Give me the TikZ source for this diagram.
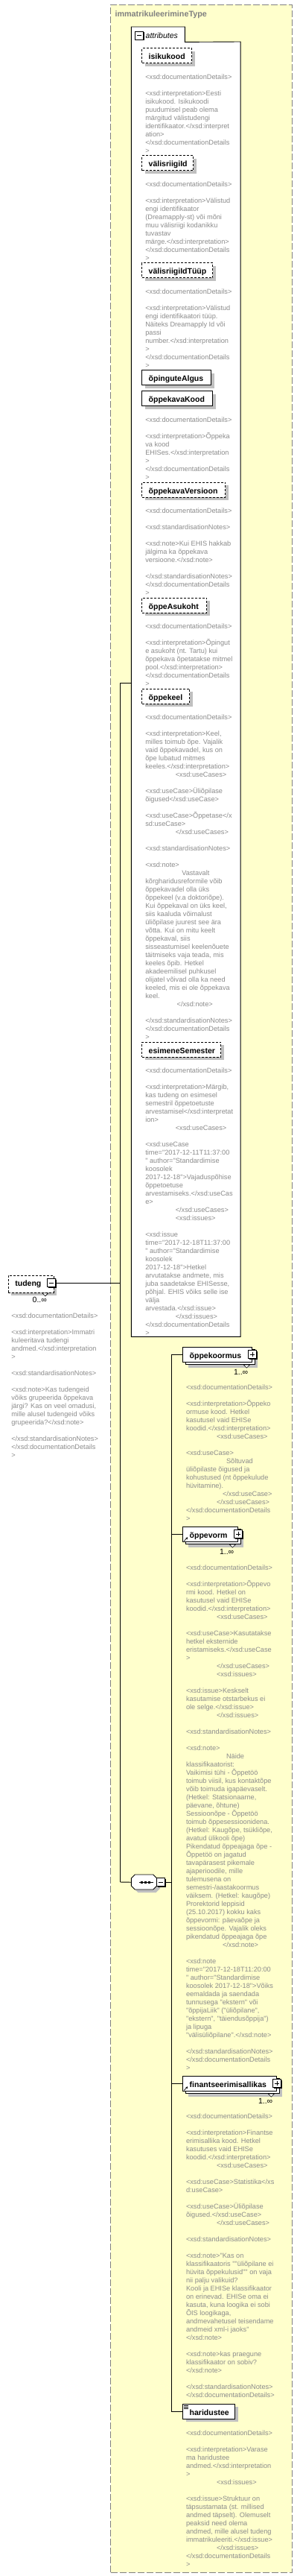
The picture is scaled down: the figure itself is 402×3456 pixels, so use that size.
\documentclass[tikz,border=0pt]{standalone}
\usepackage{fontspec}
\setmainfont{Liberation Sans}
\newfontfamily\docff{Liberation Sans}
\usetikzlibrary{shadows,arrows.meta}
\definecolor{yel}{RGB}{255,255,204}
\definecolor{docgray}{RGB}{140,140,140}
\definecolor{shad}{RGB}{192,192,192}
\definecolor{framegray}{RGB}{128,128,128}
\newcommand\docfont{\docff\fontsize{9.2}{11}\selectfont\color{docgray}}
\newcommand\BL{\mbox{}}
\newcommand\ind[1]{\hspace*{#1pt}}
\newcommand\docat[4]{\node[docnode] (#1) at (#2,#3) {\begin{minipage}[t]{200pt}\docfont #4\end{minipage}};}
\newcommand\minusmark[1]{\draw[line width=0.9pt] ([xshift=-3pt]#1.center) -- ([xshift=3pt]#1.center);}
\newcommand\plusmark[1]{\minusmark{#1}\draw[line width=0.9pt] ([yshift=-3pt]#1.center) -- ([yshift=3pt]#1.center);}
\tikzset{
  docnode/.style={anchor=base west, inner sep=0pt, outer sep=0pt},
  lblbox/.style={fill=white, draw=black, line width=0.8pt, inner xsep=9pt, inner ysep=0pt,
    text height=10pt, text depth=0pt, minimum height=20pt, anchor=north west, align=left,
    font=\fontsize{10.5}{12}\selectfont\bfseries},
  optbox/.style={lblbox, dash pattern=on 3pt off 2pt},
  shadowed/.style={drop shadow={shadow xshift=4pt, shadow yshift=-4pt, opacity=1, fill=shad}},
  backbox/.style={fill=white, draw=black, line width=0.8pt, inner sep=0pt, minimum height=20pt, anchor=north west, shadowed},
  smallbox/.style={draw=black, fill=white, line width=0.9pt, minimum size=11pt, inner sep=0pt,
    drop shadow={shadow xshift=1.2pt, shadow yshift=-1.2pt, opacity=1, fill=black}},
  conn/.style={draw=black, line width=0.9pt},
  mult/.style={inner sep=0pt, font=\fontsize{10.5}{12}\selectfont},
  notch/.style={draw=black, fill=white, line width=0.6pt},
}
\begin{document}
\begin{tikzpicture}[x=1pt,y=-1pt]
\useasboundingbox (0,0) rectangle (402,3456);
% outer complex type
\node[draw=framegray, fill=yel, line width=1pt, dash pattern=on 9pt off 3pt, inner sep=0pt,
  minimum width=243.4pt, minimum height=3445pt, anchor=north west] (outer) at (148.3,5.7) {};
\node[anchor=base west, inner sep=0pt, text=framegray, font=\fontsize{10.8}{12}\selectfont\bfseries] (title) at (154.3,22.3) {immatrikuleerimineType};
% attributes group
\node[fill=white, inner sep=0pt, minimum width=146.4pt, minimum height=1737pt, anchor=north west] (attrs) at (176.3,56) {};
\node[fill=white, inner sep=0pt, minimum width=71.7pt, minimum height=20pt, anchor=north west] (attrtab) at (176.3,36) {};
\draw[line width=0.9pt] (attrs.south west) -- (attrtab.north west) -- (attrtab.north east) -- (attrtab.south east) -- (attrs.north east) -- (attrs.south east) -- cycle;
\node[smallbox] (attrM) at (187,47.5) {}; \minusmark{attrM}
\node[anchor=base west, inner sep=0pt, font=\fontsize{10.5}{12}\selectfont\itshape] (attrLbl) at (195.5,51) {attributes};

% attribute boxes
\node[optbox, shadowed, text width=49pt] (aIsik) at (190.3,64.3) {\mbox{isikukood}};
\docat{dIsik}{195.3}{100.3}{<xsd:documentationDetails>\\
\BL\\
<xsd:interpretation>Eesti\\
isikukood. Isikukoodi\\
puudumisel peab olema\\
märgitud välistudengi\\
identifikaator.</xsd:interpret\\
ation>\\
</xsd:documentationDetails\\
>}

\node[optbox, shadowed, text width=51pt] (aValis) at (190.3,208.3) {\mbox{välisriigiId}};
\docat{dValis}{195.3}{244}{<xsd:documentationDetails>\\
\BL\\
<xsd:interpretation>Välistud\\
engi identifikaator\\
(Dreamapply-st) või mõni\\
muu välisriigi kodanikku\\
tuvastav\\
märge.</xsd:interpretation>\\
</xsd:documentationDetails\\
>}

\node[optbox, shadowed, text width=77pt] (aValisT) at (190.3,352.3) {\mbox{välisriigiIdTüüp}};
\docat{dValisT}{195.3}{388}{<xsd:documentationDetails>\\
\BL\\
<xsd:interpretation>Välistud\\
engi identifikaatori tüüp.\\
Näiteks Dreamapply Id või\\
passi\\
number.</xsd:interpretation\\
>\\
</xsd:documentationDetails\\
>}

\node[lblbox, shadowed, text width=75pt] (aAlgus) at (190.3,496.3) {\mbox{õpinguteAlgus}};

\node[lblbox, shadowed, text width=77pt] (aKood) at (190.3,524.3) {\mbox{õppekavaKood}};
\docat{dKood}{195.3}{560}{<xsd:documentationDetails>\\
\BL\\
<xsd:interpretation>Õppeka\\
va kood\\
EHISes.</xsd:interpretation\\
>\\
</xsd:documentationDetails\\
>}

\node[optbox, shadowed, text width=94pt] (aVers) at (190.3,646.7) {\mbox{õppekavaVersioon}};
\docat{dVers}{195.3}{682}{<xsd:documentationDetails>\\
\BL\\
<xsd:standardisationNotes>\\
\BL\\
<xsd:note>Kui EHIS hakkab\\
jälgima ka õppekava\\
versioone.</xsd:note>\\
\BL\\
</xsd:standardisationNotes>\\
</xsd:documentationDetails\\
>}

\node[optbox, shadowed, text width=69pt] (aAsuk) at (190.3,801.7) {\mbox{õppeAsukoht}};
\docat{dAsuk}{195.3}{837}{<xsd:documentationDetails>\\
\BL\\
<xsd:interpretation>Õpingut\\
e asukoht (nt. Tartu) kui\\
õppekava õpetatakse mitmel\\
pool.</xsd:interpretation>\\
</xsd:documentationDetails\\
>}

\node[optbox, shadowed, text width=46pt] (aKeel) at (190.3,923.7) {\mbox{õppekeel}};
\docat{dKeel}{195.3}{959}{<xsd:documentationDetails>\\
\BL\\
<xsd:interpretation>Keel,\\
milles toimub õpe. Vajalik\\
vaid õppekavadel, kus on\\
õpe lubatud mitmes\\
keeles.</xsd:interpretation>\\
\ind{40.5}<xsd:useCases>\\
\BL\\
<xsd:useCase>Üliõpilase\\
õigused</xsd:useCase>\\
\BL\\
<xsd:useCase>Õppetase</x\\
sd:useCase>\\
\ind{40.5}</xsd:useCases>\\
\BL\\
<xsd:standardisationNotes>\\
\BL\\
<xsd:note>\\
\ind{49}Vastavalt\\
kõrgharidusreformile võib\\
õppekavadel olla üks\\
õppekeel (v.a doktoriõpe).\\
Kui õppekaval on üks keel,\\
siis kaaluda võimalust\\
üliõpilase juurest see ära\\
võtta. Kui on mitu keelt\\
õppekaval, siis\\
sisseastumisel keelenõuete\\
täitmiseks vaja teada, mis\\
keeles õpib. Hetkel\\
akadeemilisel puhkusel\\
olijatel võivad olla ka need\\
keeled, mis ei ole õppekava\\
keel.\\
\ind{42.4}</xsd:note>\\
\BL\\
</xsd:standardisationNotes>\\
</xsd:documentationDetails\\
>}

\node[optbox, shadowed, text width=88pt] (aSem) at (190.3,1397.7) {\mbox{esimeneSemester}};
\docat{dSem}{195.3}{1432.7}{<xsd:documentationDetails>\\
\BL\\
<xsd:interpretation>Märgib,\\
kas tudeng on esimesel\\
semestril õppetoetuste\\
arvestamisel</xsd:interpretat\\
ion>\\
\ind{40.5}<xsd:useCases>\\
\BL\\
<xsd:useCase\\
time="2017-12-11T11:37:00\\
" author="Standardimise\\
koosolek\\
2017-12-18">Vajaduspõhise\\
õppetoetuse\\
arvestamiseks.</xsd:useCas\\
e>\\
\ind{40.5}</xsd:useCases>\\
\ind{40.5}<xsd:issues>\\
\BL\\
<xsd:issue\\
time="2017-12-18T11:37:00\\
" author="Standardimise\\
koosolek\\
2017-12-18">Hetkel\\
arvutatakse andmete, mis\\
juba saadetakse EHISesse,\\
põhjal. EHIS võiks selle ise\\
välja\\
arvestada.</xsd:issue>\\
\ind{40.5}</xsd:issues>\\
</xsd:documentationDetails\\
>}

% tudeng element
\node[optbox, shadowed, text width=43pt, minimum height=23pt, text height=8pt, text depth=2pt] (tudeng) at (11,1711) {\mbox{tudeng}};
\draw[notch] ([xshift=-16pt]tudeng.south east) -- ([xshift=-8pt]tudeng.south east) -- ([xshift=-12pt,yshift=-4pt]tudeng.south east) -- cycle;
\node[smallbox] (tudM) at (69.2,1721) {}; \minusmark{tudM}
\node[mult] (tudMult) at (53.3,1743.7) {0..∞};
\docat{dTud}{15.3}{1761.7}{<xsd:documentationDetails>\\
\BL\\
<xsd:interpretation>Immatri\\
kuleeritava tudengi\\
andmed.</xsd:interpretation\\
>\\
\BL\\
<xsd:standardisationNotes>\\
\BL\\
<xsd:note>Kas tudengeid\\
võiks grupeerida õppekava\\
järgi? Kas on veel omadusi,\\
mille alusel tudengeid võiks\\
grupeerida?</xsd:note>\\
\BL\\
</xsd:standardisationNotes>\\
</xsd:documentationDetails\\
>}

% sequence compositor
\node[inner sep=0pt, minimum width=34.7pt, minimum height=20pt, anchor=north west] (seq) at (176.3,2515) {};
\fill[shad, shift={(4,4)}] (176.3,2520) -- (181.3,2515) -- (205.7,2515) -- (211,2520.3) -- (211,2529.7) -- (205.7,2535) -- (181.3,2535) -- (176.3,2530) -- cycle;
\filldraw[fill=white, draw=black, line width=0.9pt] (176.3,2520) -- (181.3,2515) -- (205.7,2515) -- (211,2520.3) -- (211,2529.7) -- (205.7,2535) -- (181.3,2535) -- (176.3,2530) -- cycle;
\draw[line width=0.9pt] (186.7,2525) -- (205.7,2525);
\fill (188.7,2523.5) rectangle +(3,3);
\fill (193.7,2523.5) rectangle +(3,3);
\fill (198.7,2523.5) rectangle +(3,3);
\node[smallbox] (seqM) at (215.9,2525) {}; \minusmark{seqM}

% child elements
\node[backbox, minimum width=93pt] (eKoorB) at (248.6,1810.3) {};
\node[lblbox, text width=75pt] (eKoor) at (245.3,1807) {\mbox{õppekoormus}};
\draw[notch] ([xshift=-15pt]eKoorB.south east) -- ([xshift=-7pt]eKoorB.south east) -- ([xshift=-11pt,yshift=-4pt]eKoorB.south east) -- cycle;
\node[smallbox] (eKoorP) at (eKoor.east) {}; \plusmark{eKoorP}
\node[mult] (eKoorM) at ([xshift=-15.5pt,yshift=-13pt]eKoor.south east) {1..∞};
\docat{dKoor}{250}{1858}{<xsd:documentationDetails>\\
\BL\\
<xsd:interpretation>Õppeko\\
ormuse kood. Hetkel\\
kasutusel vaid EHISe\\
koodid.</xsd:interpretation>\\
\ind{41}<xsd:useCases>\\
\BL\\
<xsd:useCase>\\
\ind{54}Sõltuvad\\
üliõpilaste õigused ja\\
kohustused (nt õppekulude\\
hüvitamine).\\
\ind{49}</xsd:useCase>\\
\ind{41}</xsd:useCases>\\
</xsd:documentationDetails\\
>}

\node[backbox, minimum width=74pt] (eVormB) at (248.6,2051.3) {};
\node[lblbox, text width=56pt] (eVorm) at (245.3,2048) {\mbox{õppevorm}};
\draw[notch] ([xshift=-15pt]eVormB.south east) -- ([xshift=-7pt]eVormB.south east) -- ([xshift=-11pt,yshift=-4pt]eVormB.south east) -- cycle;
\node[smallbox] (eVormP) at (eVorm.east) {}; \plusmark{eVormP}
\draw[line width=0.8pt, -{Stealth[length=3pt,width=3pt]}] ([shift={(2,-1.5)}]eVorm.south west) -- ([shift={(7,-6.5)}]eVorm.south west);
\node[mult] (eVormM) at ([xshift=-15.5pt,yshift=-13pt]eVorm.south east) {1..∞};
\docat{dVorm}{250}{2100}{<xsd:documentationDetails>\\
\BL\\
<xsd:interpretation>Õppevo\\
rmi kood. Hetkel on\\
kasutusel vaid EHISe\\
koodid.</xsd:interpretation>\\
\ind{41}<xsd:useCases>\\
\BL\\
<xsd:useCase>Kasutatakse\\
hetkel eksternide\\
eristamiseks.</xsd:useCase\\
>\\
\ind{41}</xsd:useCases>\\
\ind{41}<xsd:issues>\\
\BL\\
<xsd:issue>Keskselt\\
kasutamise otstarbekus ei\\
ole selge.</xsd:issue>\\
\ind{41}</xsd:issues>\\
\BL\\
<xsd:standardisationNotes>\\
\BL\\
<xsd:note>\\
\ind{54}Näide\\
klassifikaatorist:\\
Vaikimisi tühi - Õppetöö\\
toimub viisil, kus kontaktõpe\\
võib toimuda igapäevaselt.\\
(Hetkel: Statsionaarne,\\
päevane, õhtune)\\
Sessioonõpe - Õppetöö\\
toimub õppesessioonidena.\\
(Hetkel: Kaugõpe, tsükliõpe,\\
avatud ülikooli õpe)\\
Pikendatud õppeajaga õpe -\\
Õppetöö on jagatud\\
tavapärasest pikemale\\
ajaperioodile, mille\\
tulemusena on\\
semestri-/aastakoormus\\
väiksem. (Hetkel: kaugõpe)\\
Prorektorid leppisid\\
(25.10.2017) kokku kaks\\
õppevormi: päevaõpe ja\\
sessioonõpe. Vajalik oleks\\
pikendatud õppeajaga õpe\\
\ind{49}</xsd:note>\\
\BL\\
<xsd:note\\
time="2017-12-18T11:20:00\\
" author="Standardimise\\
koosolek 2017-12-18">Võiks\\
eemaldada ja saendada\\
tunnusega "ekstern" või\\
"õppijaLiik" ("üliõpilane",\\
"ekstern", "täiendusõppija")\\
ja lipuga\\
"välisüliõpilane".</xsd:note>\\
\BL\\
</xsd:standardisationNotes>\\
</xsd:documentationDetails\\
>}

\node[backbox, minimum width=126pt] (eFinB) at (248.6,2788.3) {};
\node[lblbox, text width=108pt] (eFin) at (245.3,2785) {\mbox{finantseerimisallikas}};
\draw[notch] ([xshift=-15pt]eFinB.south east) -- ([xshift=-7pt]eFinB.south east) -- ([xshift=-11pt,yshift=-4pt]eFinB.south east) -- cycle;
\node[smallbox] (eFinP) at (eFin.east) {}; \plusmark{eFinP}
\draw[line width=0.8pt, -{Stealth[length=3pt,width=3pt]}] ([shift={(2,-1.5)}]eFin.south west) -- ([shift={(7,-6.5)}]eFin.south west);
\node[mult] (eFinM) at ([xshift=-15.5pt,yshift=-13pt]eFin.south east) {1..∞};
\docat{dFin}{250}{2836}{<xsd:documentationDetails>\\
\BL\\
<xsd:interpretation>Finantse\\
erimisallika kood. Hetkel\\
kasutuses vaid EHISe\\
koodid.</xsd:interpretation>\\
\ind{41}<xsd:useCases>\\
\BL\\
<xsd:useCase>Statistika</xs\\
d:useCase>\\
\BL\\
<xsd:useCase>Üliõpilase\\
õigused.</xsd:useCase>\\
\ind{41}</xsd:useCases>\\
\BL\\
<xsd:standardisationNotes>\\
\BL\\
<xsd:note>"Kas on\\
klassifikaatoris ""üliõpilane ei\\
hüvita õppekulusid"" on vaja\\
nii palju valikuid?\\
Kooli ja EHISe klassifikaator\\
on erinevad. EHISe oma ei\\
kasuta, kuna loogika ei sobi\\
ÕIS loogikaga,\\
andmevahetusel teisendame\\
andmeid xml-i jaoks"\\
</xsd:note>\\
\BL\\
<xsd:note>kas praegune\\
klassifikaator on sobiv?\\
</xsd:note>\\
\BL\\
</xsd:standardisationNotes>\\
</xsd:documentationDetails>}

\node[lblbox, shadowed, text width=52pt] (eHar) at (245.3,3225) {\mbox{haridustee}};
\foreach \dy in {2,4,6} \draw[line width=0.6pt] ([shift={(1.5,\dy)}]eHar.north west) -- ([shift={(7.5,\dy)}]eHar.north west);
\docat{dHar}{250}{3261}{<xsd:documentationDetails>\\
\BL\\
<xsd:interpretation>Varase\\
ma haridustee\\
andmed.</xsd:interpretation\\
>\\
\ind{41}<xsd:issues>\\
\BL\\
<xsd:issue>Struktuur on\\
täpsustamata (st. millised\\
andmed täpselt). Olemuselt\\
peaksid need olema\\
andmed, mille alusel tudeng\\
immatrikuleeriti.</xsd:issue>\\
\ind{41}</xsd:issues>\\
</xsd:documentationDetails\\
>}

% connectors
\coordinate (jA) at (161.3,916);
\coordinate (jB) at (161.3,2525);
\coordinate (kS) at (230.3,2525);
\draw[conn] (jA) -- (jB);
\draw[conn] (jA) -- (jA -| attrs.west);
\draw[conn] (tudM.east) -- (tudM.east -| jA);
\draw[conn] (jB) -- (seq.west);
\draw[conn] (seqM.east) -- (kS);
\draw[conn] (eKoor.west -| kS) -- (eHar.west -| kS);
\draw[conn] (eKoor.west -| kS) -- (eKoor.west);
\draw[conn] (eVorm.west -| kS) -- (eVorm.west);
\draw[conn] (eFin.west -| kS) -- (eFin.west);
\draw[conn] (eHar.west -| kS) -- (eHar.west);
\end{tikzpicture}
\end{document}
